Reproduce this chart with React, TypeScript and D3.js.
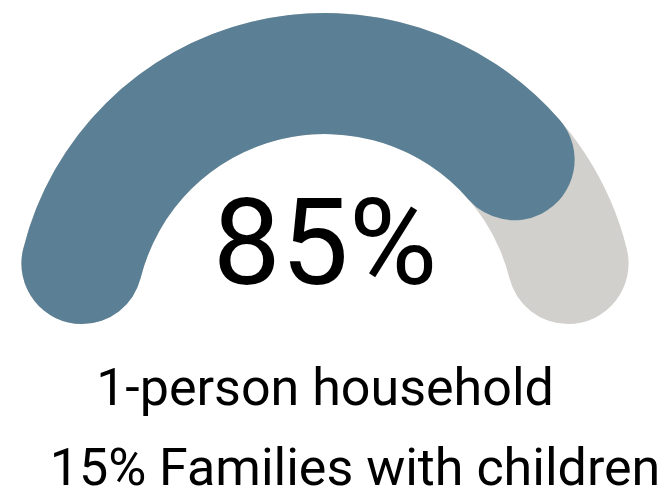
import React from "react";
import * as d3 from "d3";

const categories = ["1-person household", "Families with children"];
const values = [85, 15];
const colors = ["#5b8095", "#d1d0cc"];

const W = 666;
const H = 493;

export default function App() {
  const cx = 325;
  const cy = 324;
  const outer = 311;
  const inner = 190;
  const total = d3.sum(values);
  const angle = d3.scaleLinear().domain([0, total]).range([-Math.PI / 2, Math.PI / 2]);
  const arc = d3
    .arc<any>()
    .innerRadius(inner)
    .outerRadius(outer)
    .cornerRadius((outer - inner) / 2);
  const bg = arc({ startAngle: angle(0), endAngle: angle(total) }) as string;
  const fg = arc({ startAngle: angle(0), endAngle: angle(values[0]) }) as string;
  const pct = (v: number) => `${Math.round((v / total) * 100)}%`;
  return (
    <svg
      width={W}
      height={H}
      style={{ position: "absolute", left: 0, top: 0, display: "block" }}
    >
      <g transform={`translate(${cx},${cy})`}>
        <path d={bg} fill={colors[1]} />
        <path d={fg} fill={colors[0]} />
      </g>
      <text
        x={cx}
        y={284}
        textAnchor="middle"
        fontFamily="Roboto"
        fontSize={121}
        fill="#000"
      >
        {pct(values[0])}
      </text>
      <text x={325} y={405} textAnchor="middle" fontFamily="Roboto" fontSize={52} fill="#000">
        {categories[0]}
      </text>
      <text x={355} y={485} textAnchor="middle" fontFamily="Roboto" fontSize={52} fill="#000">
        {`${pct(values[1])} ${categories[1]}`}
      </text>
    </svg>
  );
}
